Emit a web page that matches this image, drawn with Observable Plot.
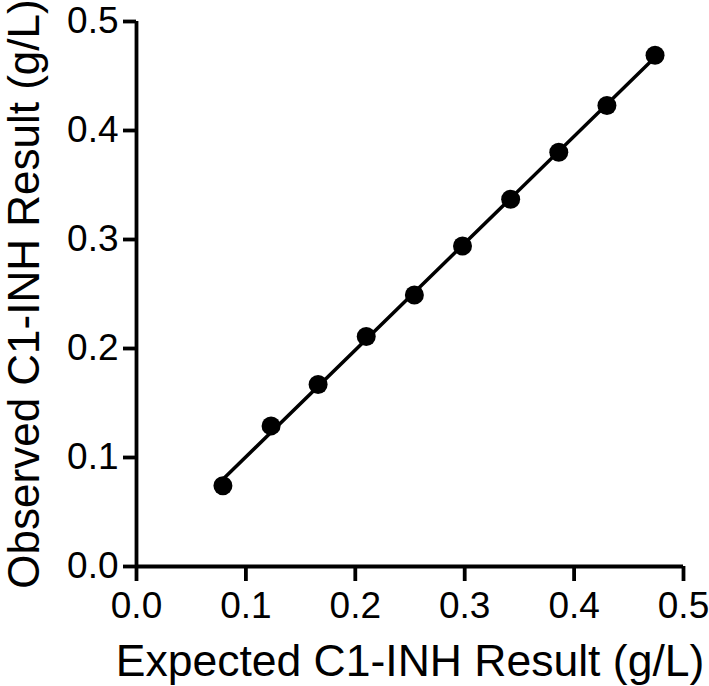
<!DOCTYPE html>
<html>
<head>
<meta charset="utf-8">
<script src="https://cdn.jsdelivr.net/npm/d3@7"></script>
<script src="https://cdn.jsdelivr.net/npm/@observablehq/plot@0.6"></script>
<style>
  html, body { margin: 0; padding: 0; background: #fff; }
  svg { font-family: "Liberation Sans", Arial, sans-serif; }
</style>
</head>
<body>
<div id="chart"></div>
<script>
const expected = [0.079, 0.123, 0.166, 0.210, 0.254, 0.298, 0.342, 0.386, 0.430, 0.474];
const observed = [0.074, 0.129, 0.167, 0.211, 0.249, 0.294, 0.337, 0.380, 0.423, 0.469];
const ticks = [0, 0.1, 0.2, 0.3, 0.4, 0.5];
const xTitle = "Expected C1-INH Result (g/L)";
const yTitle = "Observed C1-INH Result (g/L)";

const data = expected.map((e, i) => ({x: e, y: observed[i]}));

const chart = Plot.plot({
  width: 709,
  height: 686,
  marginLeft: 136,
  marginRight: 26,
  marginTop: 21,
  marginBottom: 120,
  style: {fontFamily: "'Liberation Sans', Arial, sans-serif", fontSize: "37px", color: "#000", background: "#fff"},
  x: {domain: [0, 0.5]},
  y: {domain: [0, 0.5]},
  marks: [
    Plot.ruleY([0], {stroke: "#000", strokeWidth: 3.8}),
    Plot.ruleX([0], {stroke: "#000", strokeWidth: 3.8}),
    Plot.axisX({ticks, tickFormat: d3.format(".1f"), tickSize: 15, tickPadding: 10, fontSize: 37, strokeWidth: 3.8, label: null}),
    Plot.axisY({ticks, tickFormat: d3.format(".1f"), tickSize: 13, tickPadding: 5, fontSize: 37, strokeWidth: 3.8, label: null}),
    Plot.linearRegressionY(data, {x: "x", y: "y", ci: 0, stroke: "#000", strokeWidth: 3.5}),
    Plot.dot(data, {x: "x", y: "y", r: 9.5, fill: "#000", stroke: "none"}),
    Plot.text([xTitle], {frameAnchor: "bottom", dy: 109, lineAnchor: "bottom", fontSize: 44.5, fill: "#000"}),
    Plot.text([yTitle], {frameAnchor: "left", dx: -98, rotate: -90, textAnchor: "middle", lineAnchor: "bottom", fontSize: 44, fill: "#000"})
  ]
});
document.getElementById("chart").appendChild(chart);
</script>
</body>
</html>
